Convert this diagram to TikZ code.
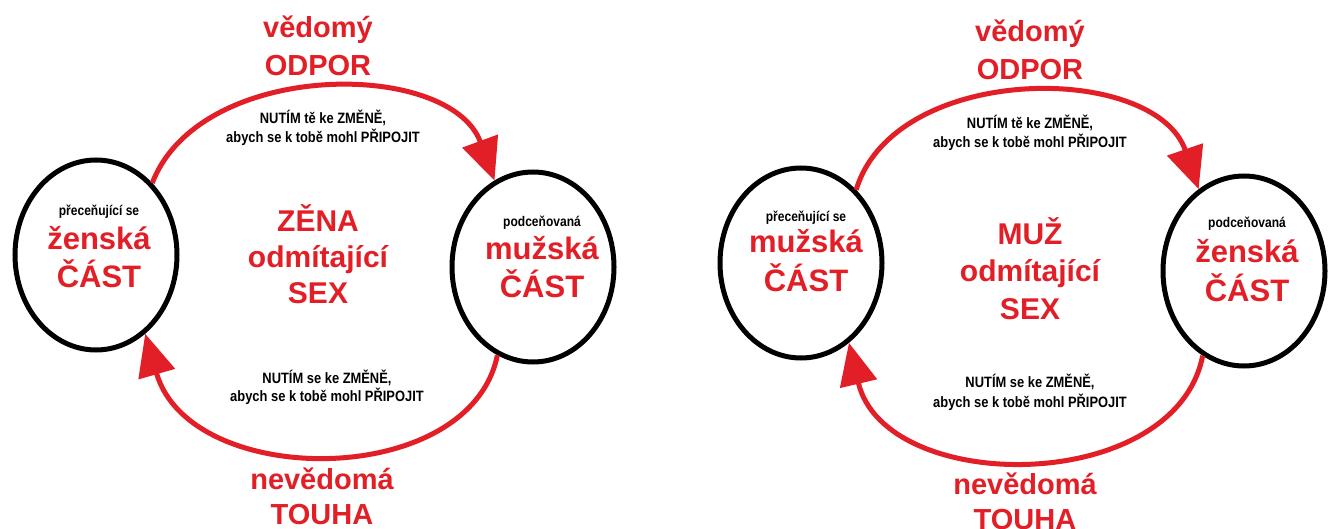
\documentclass[tikz,border=0pt]{standalone}
\usepackage{fontspec}
\setmainfont{Liberation Sans}
\newfontfamily\narrowfont[FakeStretch=0.86]{Liberation Sans}
\usetikzlibrary{shapes.geometric,arrows.meta}
\definecolor{myred}{RGB}{226,30,38}
\begin{document}
\begin{tikzpicture}[x=1pt,y=-1pt,
  ring/.style={draw=black, line width=5pt, ellipse, inner sep=0pt, minimum width=162pt, minimum height=190pt},
  bigtxt/.style={text=myred, font=\bfseries\fontsize{29}{33}\selectfont, inner sep=0pt, anchor=base},
  midtxt/.style={text=myred, font=\bfseries\fontsize{30}{34}\selectfont, inner sep=0pt, anchor=base},
  ringtxt/.style={text=myred, font=\bfseries\fontsize{31}{35}\selectfont, inner sep=0pt, anchor=base},
  smalltxt/.style={text=black, font=\narrowfont\bfseries\fontsize{15}{18}\selectfont, inner sep=0pt, anchor=base},
  tinytxt/.style={text=black, font=\narrowfont\bfseries\fontsize{14}{17}\selectfont, inner sep=0pt, anchor=base},
  flow/.style={draw=myred, line width=5pt, -{Triangle[length=42pt,width=37pt]}}]
\useasboundingbox[fill=white] (0,0) rectangle (1339,529);

% ---------- left diagram ----------
\node[ring] (L1) at (96,255) {};
\node[ring] (R1) at (533,267) {};

\node[tinytxt] (l1a) at (99,216) {přeceňující se};
\node[ringtxt] (l1b) at (99,250) {ženská};
\node[ringtxt] (l1c) at (99,288) {ČÁST};

\node[tinytxt] (r1a) at (542,227) {podceňovaná};
\node[ringtxt] (r1b) at (542,260) {mužská};
\node[ringtxt] (r1c) at (542,298) {ČÁST};

\node[midtxt] (c1a) at (318,232) {ZĚNA};
\node[midtxt] (c1b) at (318,268) {odmítající};
\node[midtxt] (c1c) at (318,304) {SEX};

\node[bigtxt] (t1a) at (318,38) {vědomý};
\node[bigtxt] (t1b) at (318,76) {ODPOR};
\node[bigtxt] (b1a) at (322,489) {nevědomá};
\node[bigtxt] (b1b) at (322,524) {TOUHA};

\node[smalltxt] (s1a) at (323,124) {NUTÍM tě ke ZMĚNĚ,};
\node[smalltxt] (s1b) at (323,143) {abych se k tobě mohl PŘIPOJIT};
\node[smalltxt] (s1c) at (327,383) {NUTÍM se ke ZMĚNĚ,};
\node[smalltxt] (s1d) at (327,401) {abych se k tobě mohl PŘIPOJIT};

\draw[flow] (L1.52) .. controls (200,59) and (450,59) .. (R1.114);
\draw[flow] (R1.248) .. controls (470,490) and (190,490) .. (L1.-58);

% ---------- right diagram ----------
\node[ring] (L2) at (801,263) {};
\node[ring] (R2) at (1244,271) {};

\node[tinytxt] (l2a) at (806,222) {přeceňující se};
\node[ringtxt] (l2b) at (806,253) {mužská};
\node[ringtxt] (l2c) at (806,292) {ČÁST};

\node[tinytxt] (r2a) at (1247,228) {podceňovaná};
\node[ringtxt] (r2b) at (1247,263) {ženská};
\node[ringtxt] (r2c) at (1247,302) {ČÁST};

\node[midtxt] (c2a) at (1030,245) {MUŽ};
\node[midtxt] (c2b) at (1030,282) {odmítající};
\node[midtxt] (c2c) at (1030,320) {SEX};

\node[bigtxt] (t2a) at (1030,42) {vědomý};
\node[bigtxt] (t2b) at (1030,80) {ODPOR};
\node[bigtxt] (b2a) at (1025,494) {nevědomá};
\node[bigtxt] (b2b) at (1025,529) {TOUHA};

\node[smalltxt] (s2a) at (1030,129) {NUTÍM tě ke ZMĚNĚ,};
\node[smalltxt] (s2b) at (1030,148) {abych se k tobě mohl PŘIPOJIT};
\node[smalltxt] (s2c) at (1030,388) {NUTÍM se ke ZMĚNĚ,};
\node[smalltxt] (s2d) at (1030,407) {abych se k tobě mohl PŘIPOJIT};

\draw[flow] (L2.53) .. controls (895,62) and (1155,62) .. (R2.119);
\draw[flow] (R2.244) .. controls (1175,496) and (885,496) .. (L2.-59);
\end{tikzpicture}
\end{document}
